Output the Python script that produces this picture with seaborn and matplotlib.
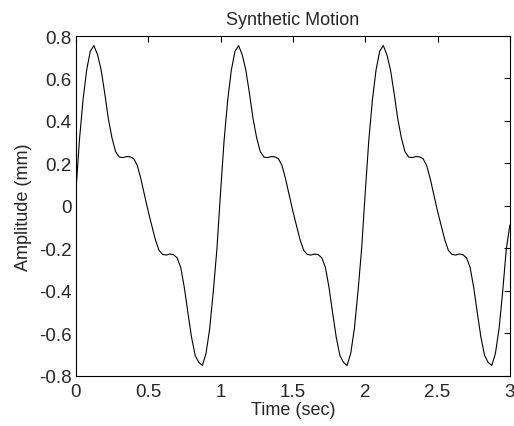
import matplotlib
matplotlib.use("Agg")
import matplotlib.pyplot as plt
import seaborn as sns
import pandas as pd

# =====================
# DATA (0.025 s steps)
# =====================
time_sec = [
    0.000, 0.025, 0.050, 0.075, 0.100, 0.125, 0.150, 0.175, 0.200, 0.225,
    0.250, 0.275, 0.300, 0.325, 0.350, 0.375, 0.400, 0.425, 0.450, 0.475,
    0.500, 0.525, 0.550, 0.575, 0.600, 0.625, 0.650, 0.675, 0.700, 0.725,
    0.750, 0.775, 0.800, 0.825, 0.850, 0.875, 0.900, 0.925, 0.950, 0.975,
    1.000, 1.025, 1.050, 1.075, 1.100, 1.125, 1.150, 1.175, 1.200, 1.225,
    1.250, 1.275, 1.300, 1.325, 1.350, 1.375, 1.400, 1.425, 1.450, 1.475,
    1.500, 1.525, 1.550, 1.575, 1.600, 1.625, 1.650, 1.675, 1.700, 1.725,
    1.750, 1.775, 1.800, 1.825, 1.850, 1.875, 1.900, 1.925, 1.950, 1.975,
    2.000, 2.025, 2.050, 2.075, 2.100, 2.125, 2.150, 2.175, 2.200, 2.225,
    2.250, 2.275, 2.300, 2.325, 2.350, 2.375, 2.400, 2.425, 2.450, 2.475,
    2.500, 2.525, 2.550, 2.575, 2.600, 2.625, 2.650, 2.675, 2.700, 2.725,
    2.750, 2.775, 2.800, 2.825, 2.850, 2.875, 2.900, 2.925, 2.950, 2.975,
    3.000,
]

amplitude_mm = [
    0.060, 0.310, 0.500, 0.640, 0.728, 0.755, 0.712, 0.640, 0.530, 0.410,
    0.320, 0.255, 0.230, 0.227, 0.232, 0.231, 0.222, 0.190, 0.126, 0.050,
    -0.025, -0.093, -0.160, -0.210, -0.229, -0.232, -0.227, -0.230, -0.245, -0.290,
    -0.385, -0.505, -0.620, -0.705, -0.738, -0.752, -0.695, -0.580, -0.405, -0.205,
    0.060, 0.310, 0.500, 0.640, 0.728, 0.755, 0.712, 0.640, 0.530, 0.410,
    0.320, 0.255, 0.230, 0.227, 0.232, 0.231, 0.222, 0.190, 0.126, 0.050,
    -0.025, -0.093, -0.160, -0.210, -0.229, -0.232, -0.227, -0.230, -0.245, -0.290,
    -0.385, -0.505, -0.620, -0.705, -0.738, -0.752, -0.695, -0.580, -0.405, -0.205,
    0.060, 0.310, 0.500, 0.640, 0.728, 0.755, 0.712, 0.640, 0.530, 0.410,
    0.320, 0.255, 0.230, 0.227, 0.232, 0.231, 0.222, 0.190, 0.126, 0.050,
    -0.025, -0.093, -0.160, -0.210, -0.229, -0.232, -0.227, -0.230, -0.245, -0.290,
    -0.385, -0.505, -0.620, -0.705, -0.738, -0.752, -0.695, -0.580, -0.405, -0.205,
    -0.090,
]

x_ticks = [0, 0.5, 1, 1.5, 2, 2.5, 3]
x_tick_labels = ["0", "0.5", "1", "1.5", "2", "2.5", "3"]
y_ticks = [0.8, 0.6, 0.4, 0.2, 0, -0.2, -0.4, -0.6, -0.8]
y_tick_labels = ["0.8", "0.6", "0.4", "0.2", "0", "-0.2", "-0.4", "-0.6", "-0.8"]

df = pd.DataFrame({"time": time_sec, "amp": amplitude_mm})

# =====================
# STYLE
# =====================
sns.set_style("white")
plt.rcParams["font.family"] = ["Liberation Sans", "DejaVu Sans"]
plt.rcParams["axes.unicode_minus"] = False
plt.rcParams["xtick.direction"] = "in"
plt.rcParams["ytick.direction"] = "in"

# =====================
# FIGURE
# =====================
fig = plt.figure(figsize=(5.14, 4.27), dpi=100)
ax = fig.add_axes([0.1475, 0.118, 0.8445, 0.7953])

sns.lineplot(data=df, x="time", y="amp", ax=ax, color="black", linewidth=0.8)

ax.set_xlim(0, 3)
ax.set_ylim(-0.8, 0.8)
ax.set_xticks(x_ticks)
ax.set_xticklabels(x_tick_labels, fontsize=13.5)
ax.set_yticks(y_ticks)
ax.set_yticklabels(y_tick_labels, fontsize=13.5)
ax.tick_params(axis="x", top=True, length=4, width=0.8, color="black", pad=5)
ax.tick_params(axis="y", right=True, length=4, width=0.8, color="black", pad=3)
for spine in ax.spines.values():
    spine.set_color("black")
    spine.set_linewidth(0.8)

ax.set_xlabel("Time (sec)", fontsize=13, labelpad=1)
ax.set_ylabel("Amplitude (mm)", fontsize=13, labelpad=5)
ax.set_title("Synthetic Motion", fontsize=13, pad=9)

fig.savefig("out.png", dpi=100)
